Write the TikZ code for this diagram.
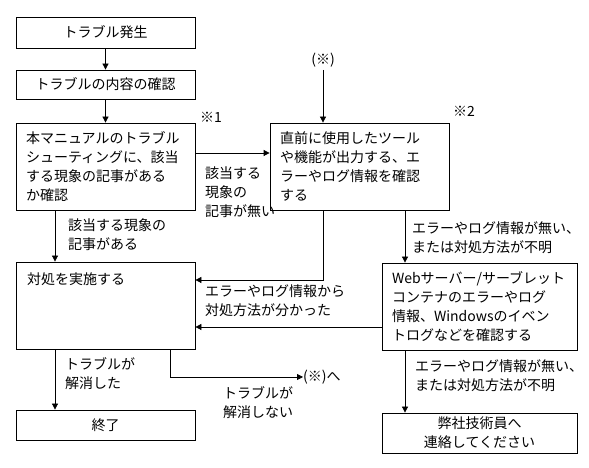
\documentclass[tikz,border=0pt]{standalone}
\usepackage{fontspec}
\setmainfont{Noto Sans CJK JP}
\usetikzlibrary{arrows.meta}
\tikzset{
  box/.style={draw, line width=0.8pt, inner xsep=10pt, inner ysep=0pt, font=\fontsize{14}{19}\selectfont},
  lbl/.style={anchor=west, align=left, inner sep=0pt, font=\fontsize{14}{19}\selectfont},
  flow/.style={line width=0.8pt, -{Triangle[length=6pt,width=6pt]}}
}

\begin{document}
\begin{tikzpicture}[x=1pt,y=1pt]
\useasboundingbox (0,0) rectangle (589,468);
% left column of boxes
\node[box, minimum width=179pt, minimum height=31pt, align=center] (start) at (105.5,435.5) {トラブル発生};
\node[box, minimum width=179pt, minimum height=29pt, align=center] (check) at (105.5,383.5) {トラブルの内容の確認};
\node[box, text width=159pt, minimum height=87pt, align=left] (manual) at (105.5,301.5) {本マニュアルのトラブル\\シューティングに、該当\\する現象の記事がある\\か確認};
\node[box, minimum width=179pt, minimum height=87pt] (act) at (105.5,162.5) {};
\node[lbl] (acttext) at (27,189) {対処を実施する};
\node[box, minimum width=179pt, minimum height=30pt, align=center] (finish) at (105.5,43) {終了};
% right column of boxes
\node[box, text width=159pt, minimum height=87pt, align=left] (recent) at (359.5,301.5) {直前に使用したツール\\や機能が出力する、エ\\ラーやログ情報を確認\\する};
\node[box, text width=175pt, minimum height=87pt, align=left] (web) at (479.5,161.5) {Webサーバー/サーブレット\\コンテナのエラーやログ\\情報、Windowsのイベン\\トログなどを確認する};
\node[box, minimum width=195pt, minimum height=40pt, align=center] (tech) at (479.5,35) {弊社技術員へ\\連絡してください};
% marks
\node[lbl, anchor=center] (star) at (323,408) {(※)};
\node[lbl] (note1) at (200,351) {※1};
\node[lbl] (note2) at (453,357) {※2};
\node[lbl] (back) at (303,91) {(※)へ};
% turning points
\coordinate (lx) at (55,0);
\coordinate (dn) at (405,0);
\coordinate (mid) at (323,188);
\coordinate (turn) at (170,91);
% connectors
\draw[flow] (start) -- (check);
\draw[flow] (check) -- (manual);
\draw[flow] ([yshift=13.5pt]manual.east) -- ([yshift=13.5pt]manual.east -| recent.west);
\draw[flow] (star.south |- 0,398) -- (star.south |- recent.north);
\draw[flow] (manual.south -| lx) -- (act.north -| lx);
\draw[flow] (recent.south -| mid) -- (mid) -- (mid -| act.east);
\draw[flow] ([yshift=-20.5pt]web.west) -- ([yshift=-20.5pt]web.west -| act.east);
\draw[flow] (recent.south -| dn) -- (web.north -| dn);
\draw[flow] (web.south -| dn) -- (tech.north -| dn);
\draw[flow] (act.south -| lx) -- (finish.north -| lx);
\draw[flow] (act.south -| turn) -- (turn) -- (back.west);
% connector labels
\node[lbl] (hasart) at (68,233.5) {該当する現象の\\記事がある};
\node[lbl] (noart) at (205,276) {該当する\\現象の\\記事が無い};
\node[lbl] (found) at (205,167) {エラーやログ情報から\\対処方法が分かった};
\node[lbl] (nolog1) at (412,230) {エラーやログ情報が無い、\\または対処方法が不明};
\node[lbl] (nolog2) at (415,92) {エラーやログ情報が無い、\\または対処方法が不明};
\node[lbl] (solved) at (65,94) {トラブルが\\解消した};
\node[lbl] (unsolved) at (223,65.5) {トラブルが\\解消しない};
\end{tikzpicture}
\end{document}
